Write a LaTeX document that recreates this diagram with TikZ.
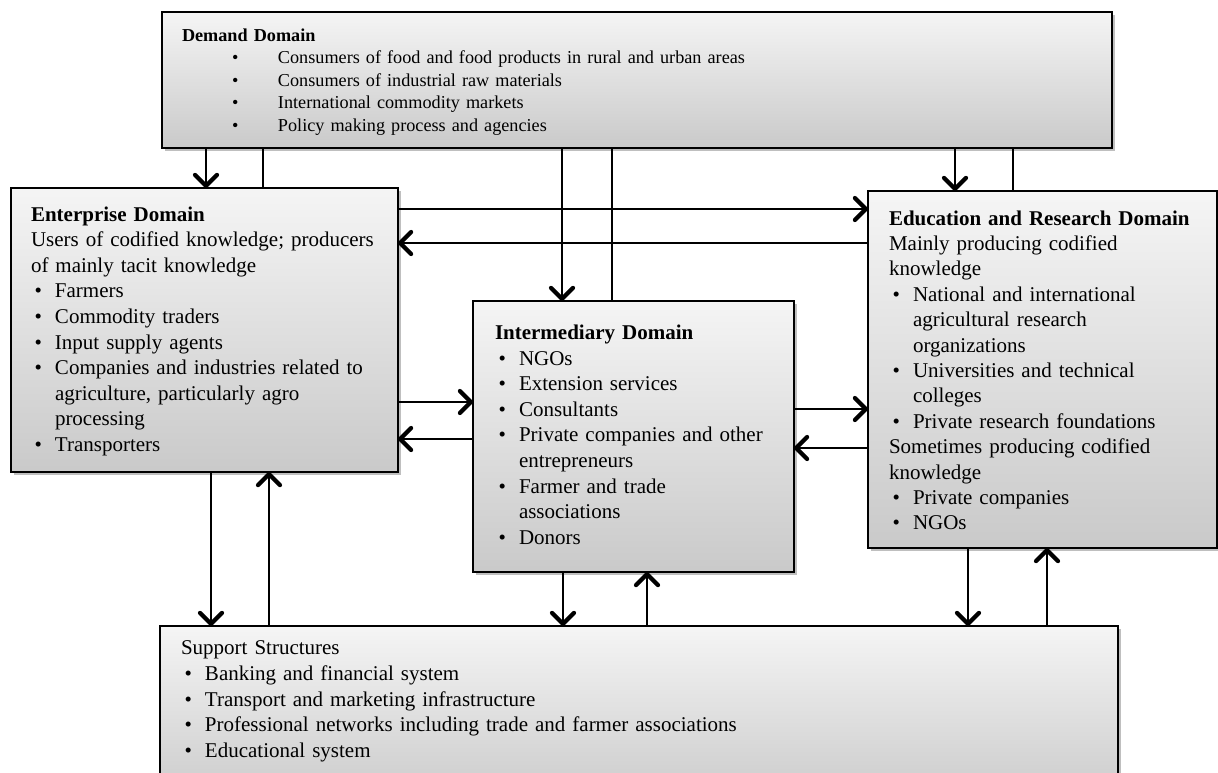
\documentclass[tikz,border=0pt]{standalone}
\usepackage{fontspec}
\setmainfont{Liberation Serif}
\usetikzlibrary{arrows.meta,shadows}
\setlength{\parindent}{0pt}
\newcommand{\bul}{\makebox[24pt][l]{\hspace*{3.5pt}•}}
\newcommand{\cont}{\hspace*{24pt}}
\newcommand{\dbul}{\makebox[96pt][l]{\hspace*{50pt}•}}
\tikzset{
  box/.style={draw=black, line width=1.8pt, inner sep=0pt, outer sep=0pt,
    top color=black!4, bottom color=black!21,
    drop shadow={shadow xshift=3pt, shadow yshift=-3pt, fill=black!50, opacity=.5}},
  txt/.style={anchor=north west, inner sep=0pt, outer sep=0pt, text width=900pt, align=left,
    font={\fontsize{21}{25.6}\selectfont}},
  dtxt/.style={txt, font={\fontsize{18.2}{22.6}\selectfont}},
  arr/.style={line width=1.8pt, -{Straight Barb[length=11pt,width=22pt,line width=4.2pt,round]}},
  ln/.style={line width=1.8pt}
}
\begin{document}
\begin{tikzpicture}[x=1pt,y=-1pt]
\useasboundingbox (0,0) rectangle (1218,772);
\clip (0,0) rectangle (1218,772);
\fill[white] (0,0) rectangle (1218,772);

% boxes
\node[box, anchor=north west, minimum width=950pt, minimum height=136pt] (dem) at (162,12) {};
\node[box, anchor=north west, minimum width=387pt, minimum height=284pt] (ent) at (11,188) {};
\node[box, anchor=north west, minimum width=349pt, minimum height=357pt] (edu) at (868,191) {};
\node[box, anchor=north west, minimum width=321pt, minimum height=271pt] (int) at (473,301) {};
\node[box, anchor=north west, minimum width=958pt, minimum height=180pt] (sup) at (160,626) {};

% texts
\node[dtxt] (demtxt) at (182,28.5) {\textbf{Demand Domain}\\
\dbul Consumers of food and food products in rural and urban areas\\
\dbul Consumers of industrial raw materials\\
\dbul International commodity markets\\
\dbul Policy making process and agencies};

\node[txt] (enttxt) at (31,206.5) {\textbf{Enterprise Domain}\\
Users of codified knowledge; producers\\
of mainly tacit knowledge\\
\bul Farmers\\
\bul Commodity traders\\
\bul Input supply agents\\
\bul Companies and industries related to\\
\cont agriculture, particularly agro\\
\cont processing\\
\bul Transporters};

\node[txt, font={\fontsize{21}{25.4}\selectfont}] (edutxt) at (889,210.5) {\textbf{Education and Research Domain}\\
Mainly producing codified\\
knowledge\\
\bul National and international\\
\cont agricultural research\\
\cont organizations\\
\bul Universities and technical\\
\cont colleges\\
\bul Private research foundations\\
Sometimes producing codified\\
knowledge\\
\bul Private companies\\
\bul NGOs};

\node[txt] (inttxt) at (495,325) {\textbf{Intermediary Domain}\\
\bul NGOs\\
\bul Extension services\\
\bul Consultants\\
\bul Private companies and other\\
\cont entrepreneurs\\
\bul Farmer and trade\\
\cont associations\\
\bul Donors};

\node[txt] (suptxt) at (181,641) {Support Structures\\
\bul Banking and financial system\\
\bul Transport and marketing infrastructure\\
\bul Professional networks including trade and farmer associations\\
\bul Educational system};

% demand connectors
\draw[arr] (206,0 |- dem.south) -- (206,0 |- ent.north);
\draw[ln] (263,0 |- ent.north) -- (263,0 |- dem.south);
\draw[arr] (562,0 |- dem.south) -- (562,0 |- int.north);
\draw[ln] (612,0 |- int.north) -- (612,0 |- dem.south);
\draw[arr] (955,0 |- dem.south) -- (955,0 |- edu.north);
\draw[ln] (1013,0 |- edu.north) -- (1013,0 |- dem.south);

% enterprise <-> education
\draw[arr] (ent.east |- 0,209) -- (edu.west |- 0,209);
\draw[arr] (edu.west |- 0,243) -- (ent.east |- 0,243);

% enterprise <-> intermediary
\draw[arr] (ent.east |- 0,402) -- (int.west |- 0,402);
\draw[arr] (int.west |- 0,439) -- (ent.east |- 0,439);

% intermediary <-> education
\draw[arr] (int.east |- 0,409) -- (edu.west |- 0,409);
\draw[arr] (edu.west |- 0,448) -- (int.east |- 0,448);

% to / from support
\draw[arr] (211,0 |- ent.south) -- (211,0 |- sup.north);
\draw[arr] (269,0 |- sup.north) -- (269,0 |- ent.south);
\draw[arr] (563,0 |- int.south) -- (563,0 |- sup.north);
\draw[arr] (647,0 |- sup.north) -- (647,0 |- int.south);
\draw[arr] (968,0 |- edu.south) -- (968,0 |- sup.north);
\draw[arr] (1047,0 |- sup.north) -- (1047,0 |- edu.south);
\end{tikzpicture}
\end{document}
